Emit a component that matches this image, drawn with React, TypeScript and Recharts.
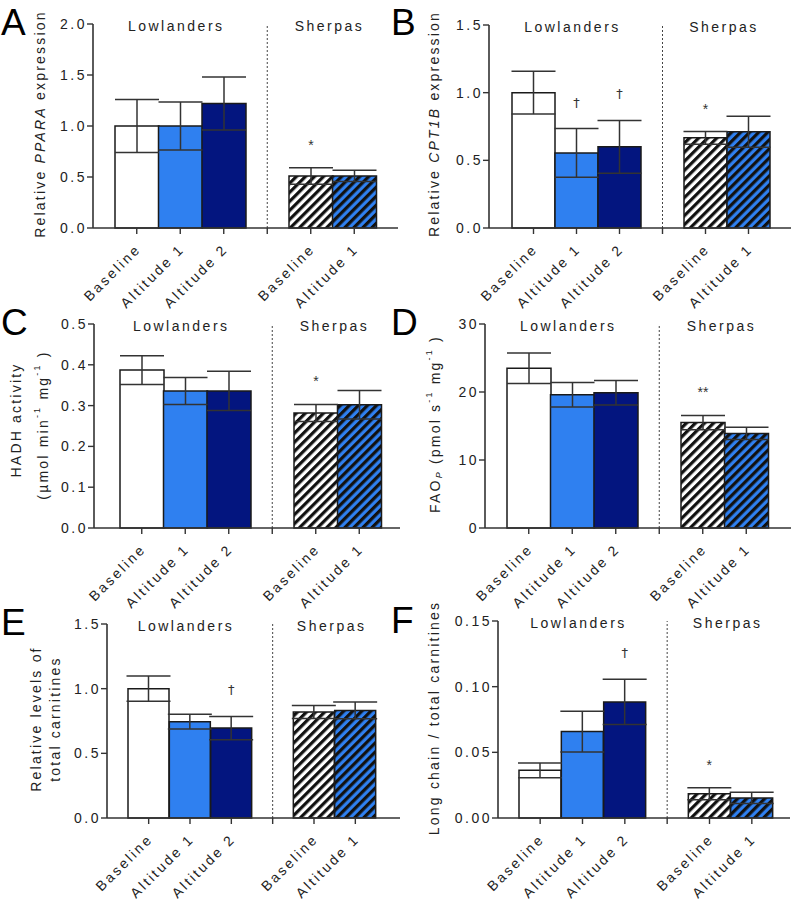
import React from 'react';
import { BarChart, Bar, XAxis, YAxis, ErrorBar, Cell, ReferenceLine, LabelList } from 'recharts';

// slots on the x axis: 3 lowlander bars, an empty slot for the divider, 2 sherpa bars
const slotKeys = ['L0', 'L1', 'L2', 'gap', 'S0', 'S1'];
const slotLabels = ['Baseline', 'Altitude 1', 'Altitude 2', '', 'Baseline', 'Altitude 1'];
const groupNames = ['Lowlanders', 'Sherpas'];

// A - PPARA
const ppara = [1.0, 1.0, 1.22, 0.51, 0.51];
const pparaErr = [0.26, 0.235, 0.26, 0.08, 0.055];
const pparaSig = ['', '', '', '*', ''];

// B - CPT1B
const cpt1b = [1.0, 0.555, 0.6, 0.666, 0.711];
const cpt1bErr = [0.158, 0.18, 0.195, 0.047, 0.115];
const cpt1bSig = ['', '†', '†', '*', ''];

// C - HADH activity
const hadh = [0.387, 0.336, 0.336, 0.282, 0.302];
const hadhErr = [0.035, 0.033, 0.048, 0.021, 0.035];
const hadhSig = ['', '', '', '*', ''];

// D - FAO_P
const faop = [23.5, 19.6, 19.9, 15.5, 13.9];
const faopErr = [2.25, 1.8, 1.8, 1.05, 0.9];
const faopSig = ['', '', '', '**', ''];

// E - total carnitines
const carn = [1.0, 0.745, 0.695, 0.82, 0.832];
const carnErr = [0.098, 0.057, 0.09, 0.05, 0.065];
const carnSig = ['', '', '†', '', ''];

// F - long chain / total carnitines
const lcRatio = [0.0363, 0.0658, 0.0884, 0.0185, 0.0153];
const lcRatioErr = [0.0056, 0.0155, 0.0172, 0.0046, 0.0043];
const lcRatioSig = ['', '', '†', '*', ''];

const ticksA = [0, 0.5, 1, 1.5, 2];
const ticksB = [0, 0.5, 1, 1.5];
const ticksC = [0, 0.1, 0.2, 0.3, 0.4, 0.5];
const ticksD = [0, 10, 20, 30];
const ticksE = [0, 0.5, 1, 1.5];
const ticksF = [0, 0.05, 0.1, 0.15];

const FONT = '"Liberation Sans", Arial, Helvetica, sans-serif';
const INK = '#222';
const AXIS = '#333';
const LIGHT_BLUE = '#2F80F0';
const NAVY = '#03157F';
const HATCH = 6.4;

function buildRows(values: number[], errs: number[], sigs: string[]) {
  const rows: any[] = [];
  let j = 0;
  slotKeys.forEach((k) => {
    if (k === 'gap') {
      rows.push({ key: k, value: null, err: null, sig: '' });
    } else {
      rows.push({ key: k, value: values[j], err: errs[j], sig: sigs[j] });
      j++;
    }
  });
  return rows;
}

const XTick = (props: any) => {
  const { x, y, payload } = props;
  const label = slotLabels[slotKeys.indexOf(payload.value)] || '';
  return (
    <text
      transform={`translate(${x + 5},${y + 14}) rotate(-45)`}
      textAnchor="end"
      fontSize={14}
      letterSpacing={2.5}
      fill={INK}
      fontFamily={FONT}
    >
      {label}
    </text>
  );
};

const makeYTick = (dec: number) => (props: any) => {
  const { x, y, payload } = props;
  return (
    <text
      x={x + 2}
      y={y}
      textAnchor="end"
      dominantBaseline="central"
      fontSize={14}
      letterSpacing={2.5}
      fill={INK}
      fontFamily={FONT}
    >
      {Number(payload.value).toFixed(dec)}
    </text>
  );
};

interface PanelProps {
  id: string;
  left: number;
  top: number;
  axisX: number;
  plotTop: number;
  plotBottom: number;
  plotRight: number;
  padL: number;
  padR: number;
  ticks: number[];
  dec: number;
  values: number[];
  errs: number[];
  sigs: string[];
}

function Panel({ id, left, top, axisX, plotTop, plotBottom, plotRight, padL, padR, ticks, dec, values, errs, sigs }: PanelProps) {
  const rows = buildRows(values, errs, sigs);
  const width = 400;
  const height = 300;
  const xAxisH = 60;
  const band = (plotRight - axisX - padL - padR) / slotKeys.length;
  const fills = ['#fff', LIGHT_BLUE, NAVY, 'none', `url(#hw-${id})`, `url(#hb-${id})`];

  // significance mark sits a fixed distance above the top of the error bar
  const renderSig = (p: any) => {
    const row = rows.find((r) => r.key === p.value);
    if (!row || !row.sig) return null;
    const pxPerUnit = p.height / row.value;
    const errTop = p.y - row.err * pxPerUnit;
    const cy = errTop - 26;
    const isStar = row.sig.includes('*');
    return (
      <text
        key={`sig-${row.key}`}
        x={p.x + p.width / 2}
        y={isStar ? cy + 8 : cy + 4}
        textAnchor="middle"
        fontSize={isStar ? 14 : 13}
        fill="#333"
        fontFamily={isStar ? FONT : '"DejaVu Sans", sans-serif'}
      >
        {row.sig}
      </text>
    );
  };

  const groupLabel = (text: string, shift: number) => (p: any) => {
    const vb = p.viewBox || {};
    return (
      <text
        x={vb.x + shift}
        y={vb.y + 2}
        textAnchor="middle"
        dominantBaseline="central"
        fontSize={14}
        letterSpacing={2.5}
        fill={INK}
        fontFamily={FONT}
      >
        {text}
      </text>
    );
  };

  return (
    <div style={{ position: 'absolute', left, top, width, height }}>
      <BarChart
        width={width}
        height={height}
        data={rows}
        barCategoryGap={0}
        barGap={0}
        margin={{
          top: plotTop - top,
          left: 0,
          right: left + width - plotRight,
          bottom: height - (plotBottom - top) - xAxisH,
        }}
      >
        <defs>
          <pattern id={`hw-${id}`} patternUnits="userSpaceOnUse" width={HATCH} height={HATCH} patternTransform="rotate(45)">
            <rect width={HATCH} height={HATCH} fill="#fff" />
            <rect width={HATCH / 2} height={HATCH} fill="#111" />
          </pattern>
          <pattern id={`hb-${id}`} patternUnits="userSpaceOnUse" width={HATCH} height={HATCH} patternTransform="rotate(45)">
            <rect width={HATCH} height={HATCH} fill={LIGHT_BLUE} />
            <rect width={HATCH / 2} height={HATCH} fill="#111" />
          </pattern>
        </defs>
        <XAxis
          dataKey="key"
          type="category"
          interval={0}
          height={xAxisH}
          padding={{ left: padL, right: padR }}
          axisLine={{ stroke: AXIS, strokeWidth: 1.6 }}
          tickLine={{ stroke: AXIS, strokeWidth: 1.4 }}
          tickSize={6}
          tick={<XTick />}
        />
        <YAxis
          type="number"
          width={axisX - left}
          domain={[0, ticks[ticks.length - 1]]}
          ticks={ticks}
          interval={0}
          axisLine={{ stroke: AXIS, strokeWidth: 1.6 }}
          tickLine={{ stroke: AXIS, strokeWidth: 1.4 }}
          tickSize={6}
          tick={makeYTick(dec)}
        />
        <ReferenceLine x="gap" stroke="#444" strokeWidth={1} strokeDasharray="2 2" />
        <ReferenceLine x="L1" stroke="none" label={groupLabel(groupNames[0], -4)} />
        <ReferenceLine x="S0" stroke="none" label={groupLabel(groupNames[1], band / 2 - 3)} />
        <Bar dataKey="value" isAnimationActive={false} stroke="#1a1a1a" strokeWidth={1.5}>
          {rows.map((r, i) => (
            <Cell key={r.key} fill={fills[i]} />
          ))}
          <ErrorBar dataKey="err" width={22} stroke="#333" strokeWidth={1.5} />
          <LabelList dataKey="key" content={renderSig} />
        </Bar>
      </BarChart>
    </div>
  );
}

const Title = ({ cx, cy, children }: any) => (
  <text
    transform={`translate(${cx},${cy}) rotate(-90)`}
    textAnchor="middle"
    dominantBaseline="central"
    fontSize={14}
    letterSpacing={2.2}
    fill={INK}
    fontFamily={FONT}
  >
    {children}
  </text>
);

const Sup = ({ children }: any) => (
  <>
    <tspan dy={-6} fontSize={9}>{children}</tspan>
    <tspan dy={6}> </tspan>
  </>
);

export default function App() {
  return (
    <div style={{ position: 'absolute', left: 0, top: 0, width: 799, height: 900, background: '#fff' }}>
      <style>{'.recharts-surface{overflow:visible}'}</style>
      <Panel id="a" left={0} top={0} axisX={93} plotTop={24} plotBottom={228} plotRight={398} padL={22} padR={22}
        ticks={ticksA} dec={1} values={ppara} errs={pparaErr} sigs={pparaSig} />
      <Panel id="b" left={400} top={0} axisX={489} plotTop={25} plotBottom={228} plotRight={791} padL={23} padR={21}
        ticks={ticksB} dec={1} values={cpt1b} errs={cpt1bErr} sigs={cpt1bSig} />
      <Panel id="c" left={0} top={300} axisX={94} plotTop={324} plotBottom={528} plotRight={400} padL={26} padR={19}
        ticks={ticksC} dec={1} values={hadh} errs={hadhErr} sigs={hadhSig} />
      <Panel id="d" left={400} top={300} axisX={485} plotTop={324} plotBottom={528} plotRight={791} padL={22} padR={23}
        ticks={ticksD} dec={0} values={faop} errs={faopErr} sigs={faopSig} />
      <Panel id="e" left={0} top={600} axisX={107} plotTop={624} plotBottom={818} plotRight={400} padL={21} padR={24}
        ticks={ticksE} dec={1} values={carn} errs={carnErr} sigs={carnSig} />
      <Panel id="f" left={400} top={600} axisX={498} plotTop={621} plotBottom={818} plotRight={790} padL={21} padR={17}
        ticks={ticksF} dec={2} values={lcRatio} errs={lcRatioErr} sigs={lcRatioSig} />

      <svg width={799} height={900} style={{ position: 'absolute', left: 0, top: 0, pointerEvents: 'none' }}>
        <g fontFamily={FONT} fontSize={37} fill="#000">
          <text x={1} y={35}>A</text>
          <text x={391} y={35}>B</text>
          <text x={1} y={335}>C</text>
          <text x={391} y={335}>D</text>
          <text x={1} y={635}>E</text>
          <text x={391} y={633}>F</text>
        </g>
        <Title cx={40} cy={124}>
          Relative <tspan fontStyle="italic">PPARA</tspan> expression
        </Title>
        <Title cx={434} cy={124}>
          Relative <tspan fontStyle="italic">CPT1B</tspan> expression
        </Title>
        <Title cx={16} cy={420}>HADH activity</Title>
        <Title cx={43} cy={425}>
          (µmol min<Sup>-1</Sup>mg<Sup>-1</Sup>)
        </Title>
        <Title cx={435} cy={424}>
          FAO<tspan dy={4} fontSize={9} fontStyle="italic">P</tspan>
          <tspan dy={-4}> (pmol s</tspan>
          <Sup>-1</Sup>mg<Sup>-1</Sup>)
        </Title>
        <Title cx={36} cy={719}>Relative levels of</Title>
        <Title cx={55} cy={719}>total carnitines</Title>
        <Title cx={434} cy={718}>Long chain / total carnitines</Title>
      </svg>
    </div>
  );
}
